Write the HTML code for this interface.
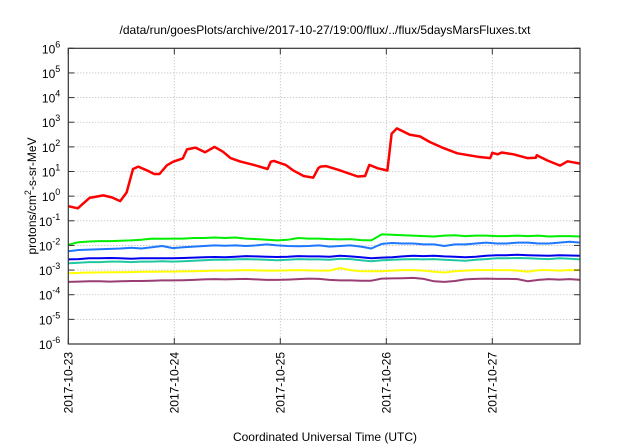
<!DOCTYPE html>
<html><head><meta charset="utf-8"><style>
body{margin:0;background:#fff;}
svg{display:block;font-family:"Liberation Sans",sans-serif;}
</style></head><body>
<svg id="chart" width="640" height="448">
<text x="325" y="34" font-size="12" text-anchor="middle">/data/run/goesPlots/archive/2017-10-27/19:00/flux/../flux/5daysMarsFluxes.txt</text>
<text x="325" y="441" font-size="12" text-anchor="middle">Coordinated Universal Time (UTC)</text>
<text transform="translate(36,196) rotate(-90)" font-size="12" text-anchor="middle">protons/cm<tspan dy="-5" font-size="9">2</tspan><tspan dy="5">-s-sr-MeV</tspan></text>
<g id="grid"></g><g id="series"></g><g id="axes"></g>
</svg>
<script>
const dayLabels=["2017-10-23","2017-10-24","2017-10-25","2017-10-26","2017-10-27"];
const yExps=[-6,-5,-4,-3,-2,-1,0,1,2,3,4,5,6];
const redDays=[0,0.09,0.2,0.33,0.41,0.49,0.55,0.61,0.66,0.74,0.81,0.86,0.93,0.99,1.08,1.12,1.2,1.29,1.38,1.46,1.53,1.62,1.75,1.88,1.91,1.94,2.05,2.12,2.22,2.31,2.36,2.38,2.43,2.54,2.73,2.8,2.84,2.92,3.01,3.05,3.1,3.22,3.32,3.41,3.54,3.67,3.86,3.98,4.0,4.05,4.09,4.2,4.33,4.41,4.42,4.52,4.64,4.71,4.83];
const redVals=[0.39,0.32,0.85,1.07,0.89,0.63,1.4,12.6,15.8,11.2,7.9,7.9,17.8,25,34,79,93,60,100,63,35,25.7,18.6,12.6,25,27,18.6,11.2,6.6,5.6,14,15.8,16.6,12,6.3,6.6,18.6,13.5,11,339,562,316,263,158,89,55,40,35,57.5,50,59,50,35,36,46,28,17.4,26,21];
const greenVals=[0.0107,0.0135,0.0145,0.015,0.015,0.0155,0.016,0.017,0.019,0.0185,0.019,0.019,0.02,0.02,0.021,0.02,0.021,0.019,0.018,0.017,0.016,0.017,0.02,0.019,0.019,0.018,0.0175,0.018,0.0165,0.016,0.028,0.027,0.026,0.025,0.024,0.023,0.025,0.026,0.024,0.025,0.025,0.024,0.024,0.025,0.024,0.025,0.023,0.024,0.024,0.023];
const blueVals=[0.0058,0.0065,0.0068,0.007,0.0072,0.0075,0.008,0.0075,0.0085,0.0095,0.0078,0.0085,0.009,0.0095,0.01,0.0097,0.01,0.0095,0.01,0.011,0.01,0.0095,0.0092,0.0095,0.01,0.009,0.0095,0.01,0.009,0.0075,0.0115,0.0125,0.012,0.012,0.011,0.011,0.0095,0.011,0.011,0.012,0.013,0.012,0.012,0.013,0.013,0.012,0.012,0.013,0.014,0.013];
const navyVals=[0.0027,0.0028,0.003,0.003,0.0031,0.003,0.0029,0.003,0.003,0.003,0.003,0.0031,0.0032,0.0033,0.0034,0.0033,0.0035,0.0037,0.0036,0.0035,0.0034,0.0035,0.0037,0.0036,0.0036,0.0035,0.0038,0.0036,0.0033,0.003,0.0032,0.0033,0.0036,0.0038,0.0037,0.0038,0.0036,0.0035,0.0033,0.0035,0.0038,0.004,0.004,0.0042,0.004,0.0039,0.0038,0.004,0.0039,0.0038];
const tealVals=[0.0019,0.002,0.0021,0.0021,0.0022,0.0022,0.0021,0.0022,0.0022,0.0023,0.0022,0.0023,0.0024,0.0025,0.0026,0.0026,0.0027,0.0028,0.0027,0.0026,0.0025,0.0026,0.0028,0.0027,0.0027,0.0026,0.0029,0.0028,0.0025,0.0023,0.0025,0.0026,0.0027,0.0028,0.0027,0.0028,0.0026,0.0025,0.0024,0.0026,0.0028,0.003,0.003,0.0031,0.003,0.0029,0.0028,0.003,0.0029,0.0027];
const yellowVals=[0.00075,0.00077,0.0008,0.0008,0.00082,0.00082,0.00083,0.00085,0.00085,0.00087,0.00087,0.00088,0.0009,0.00092,0.00095,0.00095,0.00097,0.001,0.00097,0.00095,0.00095,0.00097,0.001,0.00097,0.00095,0.00095,0.0012,0.001,0.0009,0.0009,0.0009,0.00095,0.001,0.001,0.00095,0.00085,0.0008,0.0009,0.00095,0.001,0.001,0.001,0.001,0.00095,0.00085,0.001,0.001,0.00095,0.001,0.001];
const purpleVals=[0.00033,0.00034,0.00035,0.00035,0.00034,0.00035,0.00036,0.00036,0.00037,0.00038,0.00038,0.00039,0.0004,0.00042,0.00043,0.00042,0.00043,0.00044,0.00042,0.0004,0.0004,0.00041,0.00043,0.00045,0.00044,0.0004,0.00038,0.00038,0.00037,0.00037,0.00045,0.00046,0.00047,0.00048,0.00044,0.00035,0.00033,0.00036,0.00042,0.00044,0.00045,0.00044,0.00044,0.00043,0.00035,0.0004,0.00043,0.00041,0.00043,0.0004];
const X0=68.3,X1=580,Y0=344,Y1=48.3,PXD=106;
const xs=d=>X0+d*PXD;
const ys=v=>Y0-(Math.log10(v)+6)*(Y0-Y1)/12;
const NS="http://www.w3.org/2000/svg";
function mk(tag,attrs,parent){const e=document.createElementNS(NS,tag);for(const k in attrs)e.setAttribute(k,attrs[k]);parent.appendChild(e);return e;}
const grid=document.getElementById('grid'),axes=document.getElementById('axes'),ser=document.getElementById('series');
yExps.forEach(p=>{const y=ys(Math.pow(10,p));
 if(p>-6&&p<6){const g=mk('line',{x1:X0,x2:X1,y1:y,y2:y,stroke:'#aaa','stroke-width':0.8,'stroke-dasharray':'1,2'},grid);
 
 }
 const t=mk('text',{x:X0-8,y:y+5,'font-size':12,'text-anchor':'end'},axes);
 
 
 t.textContent='10';const s=mk('tspan',{dy:-6,'font-size':9},t);s.textContent=String(p);
 mk('line',{x1:X0,x2:X0+6,y1:y,y2:y,stroke:'#333'},axes);mk('line',{x1:X1,x2:X1-6,y1:y,y2:y,stroke:'#333'},axes);
});
dayLabels.forEach((lab,i)=>{const x=xs(i);
 if(i>0){const g=mk('line',{x1:x,x2:x,y1:Y1,y2:Y0,stroke:'#aaa','stroke-width':0.8,'stroke-dasharray':'1,2'},grid);
 
 }
 mk('line',{x1:x,x2:x,y1:Y0,y2:Y0-6,stroke:'#333'},axes);mk('line',{x1:x,x2:x,y1:Y1,y2:Y1+6,stroke:'#333'},axes);
 const t=mk('text',{transform:`translate(${x+4},352) rotate(-90)`,'font-size':12,'text-anchor':'end'},axes);
 
 
 t.textContent=lab;
});
const fr=mk('rect',{x:X0,y:Y1,width:X1-X0,height:Y0-Y1,fill:'none',stroke:'#333','stroke-width':1.2},axes);


function line(days,vals,color,w,name){const d=vals.map((v,i)=>(i?'L':'M')+xs(days[i]).toFixed(1)+','+ys(v).toFixed(1)).join('');
 const p=mk('path',{d:d,fill:'none',stroke:color,'stroke-width':w,'stroke-linejoin':'round'},ser);
 
 }
const flatDays=greenVals.map((_,i)=>i*4.83/(greenVals.length-1));
line(flatDays,purpleVals,'#993d73',2,'series-purple');
line(flatDays,yellowVals,'#ffff00',2,'series-yellow');
line(flatDays,tealVals,'#20c8a0',2,'series-teal');
line(flatDays,navyVals,'#0000ee',2,'series-navy');
line(flatDays,blueVals,'#1e78ff',2,'series-blue');
line(flatDays,greenVals,'#00ee00',2,'series-green');
line(redDays,redVals,'#ff0000',2.5,'series-red');
</script>
</body></html>
